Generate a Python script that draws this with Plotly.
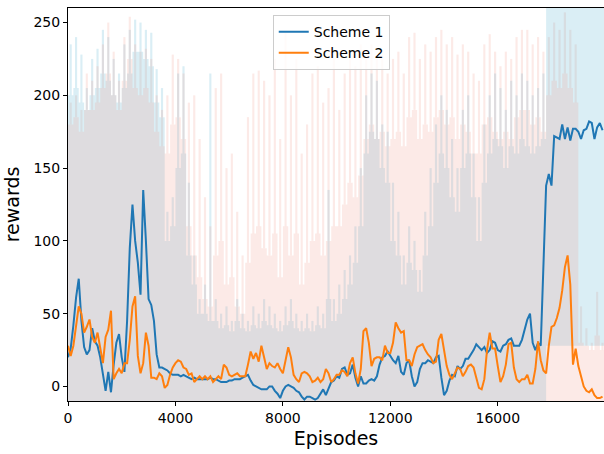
import plotly.graph_objects as go

# ---- smoothed reward curves (one value every 100 episodes) ----
STEP = 100
scheme1_smooth = [
    20, 26, 42, 61, 74, 45, 27, 22, 25, 40,
    31, 28, 20, 8, -3, 10, -4, 15, 30, 36,
    20, 10, 45, 95, 125, 100, 85, 63, 135, 100,
    60, 56, 45, 22, 13, 13, 12, 11, 9, 8,
    8, 8, 7, 8, 7, 6, 5, 6, 5, 5,
    5, 5, 5, 6, 5, 5, 4, 3, 3, 3,
    4, 4, 5, 5, 5, 6, 7, 8, 4, 1,
    0, -1, -2, -2, -2, 0, 0, -3, -5, -8,
    -3, 0, 1, 0, -1, -3, -4, -7, -9, -7,
    -7, -8, -9, -8, -5, -2, -6, -2, 3, 4,
    7, 6, 12, 13, 8, 9, 15, 6, 0, 7,
    2, 2, 4, 5, 4, 7, 15, 20, 21, 24,
    21, 18, 16, 21, 10, 8, 16, 18, 7, 0,
    3, 12, 16, 16, 18, 17, 16, 20, 21, 6,
    -6, -3, 4, 8, 7, 14, 12, 14, 19, 19,
    22, 25, 29, 27, 25, 27, 23, 25, 31, 30,
    25, 24, 28, 29, 32, 33, 28, 28, 28, 32,
    39, 46, 50, 30, 25, 30, 28, 85, 138, 146,
    138, 172, 171, 170, 180, 170, 178, 169, 177, 177,
    175, 170, 176, 177, 182, 181, 170, 178, 181, 176,
]
scheme2_smooth = [
    28, 21, 28, 41, 55, 50, 37, 41, 46, 34,
    30, 37, 25, 16, 34, 39, 52, 5, 9, 12,
    9, 16, 16, 32, 55, 62, 21, 9, 16, 37,
    28, 6, 6, 5, 9, 7, -1, 1, 8, 13,
    16, 18, 17, 13, 12, 8, 9, 3, 5, 7,
    5, 7, 5, 7, 3, 5, 7, 5, 15, 13,
    8, 7, 8, 9, 7, 7, 7, 15, 24, 19,
    23, 17, 28, 20, 12, 16, 14, 13, 16, 12,
    9, 18, 27, 20, 8, 5, 3, 9, 10, 9,
    7, 3, 4, 6, 3, 5, 12, 9, 3, 5,
    8, 8, 11, 10, 7, 16, 20, 9, 2, 12,
    38, 40, 30, 14, 19, 20, 20, 18, 28, 23,
    23, 30, 44, 40, 37, 38, 18, 18, 14, 22,
    27, 28, 29, 25, 22, 20, 16, 17, 32, 36,
    25, 14, 8, 5, 9, 13, 12, 7, 10, 14,
    15, 13, 6, -1, -2, 5, 25, 37, 26, 26,
    14, 3, 7, 15, 29, 30, 13, 5, 3, 5,
    5, 8, 2, 2, 12, 31, 18, 11, 9, 28,
    41, 42, 47, 54, 66, 82, 90, 70, 15, 26,
    14, 7, 0, -3, -4, -2, -6, -8, -8, -7,
]

# ---- raw reward spread per 200-episode block ----
# floor: lowest raw reward, body: level reached most of the time,
# peak: highest raw reward seen in the block
BIN = 200
scheme1_raw_floor = [-10] * 89 + [28] * 11
scheme1_raw_body = [
    200, 205, 195, 190, 200, 205, 215, 210, 200, 195,
    205, 215, 230, 230, 225, 220, 195, 185, 100, 110,
    150, 160, 90, 70, 50, 50, 45, 45, 40, 42,
    38, 45, 40, 38, 42, 40, 45, 42, 40, 38,
    42, 45, 40, 38, 40, 38, 42, 40, 60, 45,
    50, 60, 70, 85, 110, 160, 175, 170, 150, 140,
    100, 90, 70, 85, 80, 65, 90, 110, 140, 160,
    150, 130, 120, 150, 160, 130, 100, 140, 160, 170,
    165, 150, 165, 160, 170, 165, 160, 165, 170, 270,
    270, 270, 270, 270, 270, 270, 270, 270, 270, 270,
]
scheme1_raw_peak = [
    235, 240, 228, 205, 225, 232, 245, 240, 225, 215,
    235, 245, 252, 250, 245, 243, 218, 205, 120, 130,
    215, 220, 140, 90, 60, 70, 215, 60, 50, 55,
    45, 60, 50, 45, 55, 50, 60, 55, 50, 45,
    55, 60, 50, 45, 50, 45, 55, 50, 135, 60,
    70, 80, 90, 110, 150, 200, 215, 210, 180, 175,
    140, 120, 90, 110, 100, 80, 120, 150, 180, 200,
    190, 170, 150, 190, 200, 160, 130, 180, 200, 215,
    205, 190, 210, 200, 215, 210, 200, 205, 215, 270,
    270, 270, 270, 270, 270, 270, 270, 270, 270, 270,
]
scheme2_raw_floor = [-10] * 100
scheme2_raw_body = [
    180, 185, 175, 190, 190, 195, 205, 215, 200, 190,
    210, 225, 205, 200, 205, 195, 175, 165, 160, 180,
    185, 170, 110, 90, 75, 60, 55, 90, 100, 70,
    75, 55, 50, 85, 105, 110, 95, 90, 105, 75,
    110, 90, 105, 70, 85, 100, 105, 90, 100, 110,
    110, 125, 140, 130, 145, 170, 180, 170, 175, 165,
    170, 175, 165, 185, 190, 170, 180, 175, 185, 190,
    180, 185, 170, 180, 175, 160, 160, 180, 185, 175,
    170, 175, 170, 185, 190, 190, 180, 185, 175, 200,
    210, 205, 215, 205, 195, 30, 28, 25, 35, 25,
]
scheme2_raw_peak = [
    195, 200, 190, 215, 210, 220, 235, 250, 230, 210,
    240, 254, 235, 230, 232, 225, 200, 190, 200, 228,
    225, 215, 195, 200, 170, 130, 110, 205, 215, 150,
    160, 120, 90, 185, 215, 217, 210, 200, 225, 170,
    243, 200, 225, 160, 180, 215, 220, 195, 205, 225,
    190, 215, 230, 220, 235, 225, 235, 225, 230, 215,
    225, 230, 215, 240, 243, 225, 235, 230, 240, 245,
    235, 240, 228, 235, 230, 215, 210, 235, 242, 230,
    220, 230, 225, 240, 245, 245, 235, 240, 230, 240,
    250, 245, 257, 245, 235, 55, 40, 30, 65, 30,
]

X_TICKS = [0, 4000, 8000, 12000, 16000]
Y_TICKS = [0, 50, 100, 150, 200, 250]

BLUE = "#1f77b4"
ORANGE = "#ff7f0e"
RAW1 = "rgba(70,170,205,0.2)"
RAW2 = "rgba(240,150,135,0.2)"
FONT = "DejaVu Sans"
SPIKE_W = 80  # width of a peak stroke, in episodes


def band(lo, hi):
    """Step-shaped closed polygon covering [lo, hi] for each block."""
    xs, ys = [], []
    for i, h in enumerate(hi):
        xs += [i * BIN, (i + 1) * BIN]
        ys += [h, h]
    for i in range(len(lo) - 1, -1, -1):
        xs += [(i + 1) * BIN, i * BIN]
        ys += [lo[i], lo[i]]
    return xs, ys


def add_raw(fig, floor, body, peak, color):
    bx, by = band(floor, body)
    fig.add_trace(go.Scatter(x=bx, y=by, mode="lines", fill="toself",
                             fillcolor=color, line=dict(width=0),
                             showlegend=False, hoverinfo="skip"))
    centers = [i * BIN + BIN / 2 for i in range(len(peak))]
    fig.add_trace(go.Bar(x=centers, y=[max(p - b, 0) for p, b in zip(peak, body)],
                         base=body, width=SPIKE_W,
                         marker=dict(color=color, line=dict(width=0)),
                         showlegend=False, hoverinfo="skip"))


episodes = [i * STEP for i in range(len(scheme1_smooth))]

fig = go.Figure()
add_raw(fig, scheme1_raw_floor, scheme1_raw_body, scheme1_raw_peak, RAW1)
add_raw(fig, scheme2_raw_floor, scheme2_raw_body, scheme2_raw_peak, RAW2)

fig.add_trace(go.Scatter(x=episodes, y=scheme1_smooth, mode="lines",
                         name="Scheme 1", line=dict(color=BLUE, width=2)))
fig.add_trace(go.Scatter(x=episodes, y=scheme2_smooth, mode="lines",
                         name="Scheme 2", line=dict(color=ORANGE, width=2)))

fig.update_layout(
    width=604, height=454,
    margin=dict(l=68, r=0, t=8, b=53),
    paper_bgcolor="white", plot_bgcolor="white",
    font=dict(family=FONT, size=14, color="black"),
    showlegend=True, barmode="overlay",
    legend=dict(x=0.382, y=0.982, xanchor="left", yanchor="top",
                bgcolor="rgba(255,255,255,0.8)", bordercolor="#cccccc",
                borderwidth=1, font=dict(size=14, family=FONT)),
)
fig.update_xaxes(
    range=[0, 19955], tickvals=X_TICKS, ticktext=[str(v) for v in X_TICKS],
    showline=True, linecolor="black", linewidth=1, mirror=True,
    ticks="outside", ticklen=4, tickwidth=1, tickcolor="black",
    showgrid=False, zeroline=False, automargin=False,
    title=dict(text="Episodes", font=dict(size=19, family=FONT), standoff=6),
)
fig.update_yaxes(
    range=[-10, 260], tickvals=Y_TICKS,
    showline=True, linecolor="black", linewidth=1,
    ticks="outside", ticklen=4, tickwidth=1, tickcolor="black",
    showgrid=False, zeroline=False, automargin=False,
    title=dict(text="rewards", font=dict(size=19, family=FONT), standoff=8),
)

fig.write_html("out.html")
